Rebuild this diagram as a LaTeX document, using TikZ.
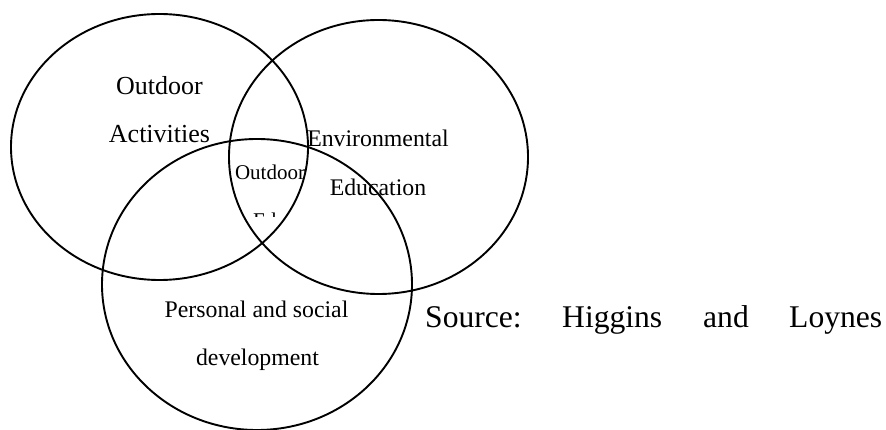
\documentclass[tikz,border=0pt]{standalone}
\usepackage{fontspec}
\setmainfont{Liberation Serif}
\begin{document}
\begin{tikzpicture}[x=1pt,y=-1pt,
  ring/.style={line width=1.9pt},
  lbl/.style={inner sep=0pt,anchor=base},
  big/.style={font=\fontsize{26}{30}\selectfont},
  mid/.style={font=\fontsize{23.8}{28}\selectfont},
  small/.style={font=\fontsize{21}{25}\selectfont},
  src/.style={inner sep=0pt,anchor=base west,font=\fontsize{31.6}{36}\selectfont}]
\useasboundingbox (0,0) rectangle (886,430);

% the three overlapping circles
\draw[ring] (159.5,147) ellipse [x radius=148.5, y radius=133];
\draw[ring] (378.5,157) ellipse [x radius=149.5, y radius=137];
\draw[ring] (257,284.5) ellipse [x radius=155, y radius=145.5];

% circle labels
\node[lbl,big] (oa1) at (159.5,95) {Outdoor};
\node[lbl,big] (oa2) at (159.5,143) {Activities};
\node[lbl,mid] (ee1) at (378,147) {Environmental};
\node[lbl,mid] (ee2) at (378,196) {Education};
\node[lbl,mid] (ps1) at (256.5,317) {Personal and social};
\node[lbl,mid] (ps2) at (257.5,365) {development};

% centre label, second line cut off by its text box
\node[lbl,small] (oe1) at (270,180) {Outdoor};
\begin{scope}
  \clip (225,200) rectangle (315,217);
  \node[lbl,small] (oe2) at (270,228) {Edu};
\end{scope}

% source line
\node[src] (s1) at (425,327) {Source:};
\node[src] (s2) at (562,327) {Higgins};
\node[src] (s3) at (703,327) {and};
\node[src] (s4) at (789,327) {Loynes};
\end{tikzpicture}
\end{document}
